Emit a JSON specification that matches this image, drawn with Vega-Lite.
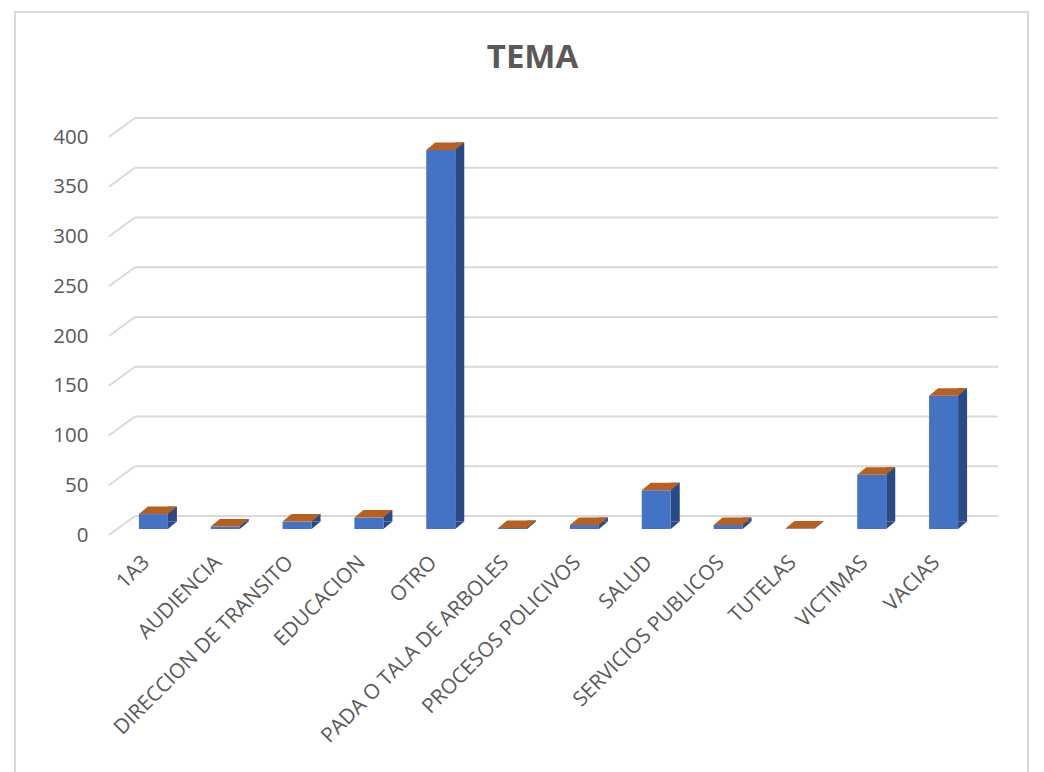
{
  "$schema": "https://vega.github.io/schema/vega-lite/v6.json",
  "width": 1013,
  "height": 762,
  "autosize": "none",
  "padding": {"left": 15, "top": 12, "right": 16, "bottom": 0},
  "background": "white",
  "config": {
    "view": {"stroke": "#D9D9D9", "strokeWidth": 2},
    "font": "Open Sans"
  },
  "title": {"text": "TEMA", "font": "Open Sans", "fontSize": 33, "fontWeight": "bold", "color": "#595959", "anchor": "middle", "dx": 11, "offset": -63},
  "datasets": {
    "bars": [
      {"tema": "1A3", "valor": 15},
      {"tema": "AUDIENCIA", "valor": 2.5},
      {"tema": "DIRECCION DE TRANSITO", "valor": 7.5},
      {"tema": "EDUCACION", "valor": 11.5},
      {"tema": "OTRO", "valor": 381},
      {"tema": "PADA O TALA DE ARBOLES", "valor": 1},
      {"tema": "PROCESOS POLICIVOS", "valor": 4},
      {"tema": "SALUD", "valor": 39},
      {"tema": "SERVICIOS PUBLICOS", "valor": 4},
      {"tema": "TUTELAS", "valor": 0.5},
      {"tema": "VICTIMAS", "valor": 54.5},
      {"tema": "VACIAS", "valor": 134}
    ],
    "grid": [
      {"v": 0}, {"v": 50}, {"v": 100}, {"v": 150}, {"v": 200}, {"v": 250}, {"v": 300}, {"v": 350}, {"v": 400}
    ]
  },
  "encoding": {
    "x": {
      "field": "tema", "type": "nominal", "sort": null,
      "scale": {"domain": ["1A3","AUDIENCIA","DIRECCION DE TRANSITO","EDUCACION","OTRO","PADA O TALA DE ARBOLES","PROCESOS POLICIVOS","SALUD","SERVICIOS PUBLICOS","TUTELAS","VICTIMAS","VACIAS"], "range": [102.5, 964.5], "paddingInner": 0, "paddingOuter": 0},
      "axis": {"title": null, "domain": false, "ticks": false, "labelAngle": -45, "labelAlign": "right", "labelBaseline": "middle", "labelFontSize": 20.7, "labelColor": "#595959", "labelFont": "Open Sans", "labelPadding": 6, "labelOffset": -7, "offset": -221, "labelOverlap": false, "labelLimit": 0, "grid": false}
    },
    "y": {
      "field": "valor", "type": "quantitative",
      "scale": {"domain": [0, 400], "range": [523, 125], "nice": false},
      "axis": {"title": null, "domain": false, "ticks": false, "grid": false, "values": [0,50,100,150,200,250,300,350,400], "labelFontSize": 20.5, "labelColor": "#595959", "labelFont": "Open Sans", "labelPadding": 0, "offset": -73}
    }
  },
  "layer": [
    {
      "data": {"name": "grid"},
      "mark": {"type": "rule", "color": "#D9D9D9", "strokeWidth": 2, "xOffset": -18.5, "x2Offset": 54.4, "yOffset": -19, "y2Offset": -19},
      "encoding": {
        "x": {"datum": "1A3"},
        "x2": {"datum": "VACIAS"},
        "y": {"field": "v", "type": "quantitative"}
      }
    },
    {
      "data": {"name": "grid"},
      "mark": {"type": "point", "filled": false, "opacity": 1, "stroke": "#D9D9D9", "strokeWidth": 2, "shape": "M0,0L26,-19", "size": 4, "xOffset": -44.5},
      "encoding": {
        "x": {"datum": "1A3"},
        "y": {"field": "v", "type": "quantitative"}
      }
    },
    {
      "data": {"name": "bars"},
      "mark": {"type": "bar", "size": 9, "color": "#2A4A85", "xOffset": 19, "yOffset": -13.5, "y2Offset": -13.5}
    },
    {
      "data": {"name": "bars"},
      "mark": {"type": "point", "filled": true, "opacity": 1, "color": "#2A4A85", "shape": "M14.5,0L23.5,-7.5L14.5,-7.5Z", "size": 4, "yOffset": -6},
      "encoding": {"y": {"datum": 0}}
    },
    {
      "data": {"name": "bars"},
      "mark": {"type": "bar", "size": 29, "color": "#4472C4", "yOffset": -6, "y2Offset": -6}
    },
    {
      "data": {"name": "bars"},
      "mark": {"type": "point", "filled": true, "opacity": 1, "color": "#B85F22", "shape": "M-14.5,0L14.5,0L23.5,-7.5L-5.5,-7.5Z", "size": 4, "yOffset": -6}
    }
  ]
}
